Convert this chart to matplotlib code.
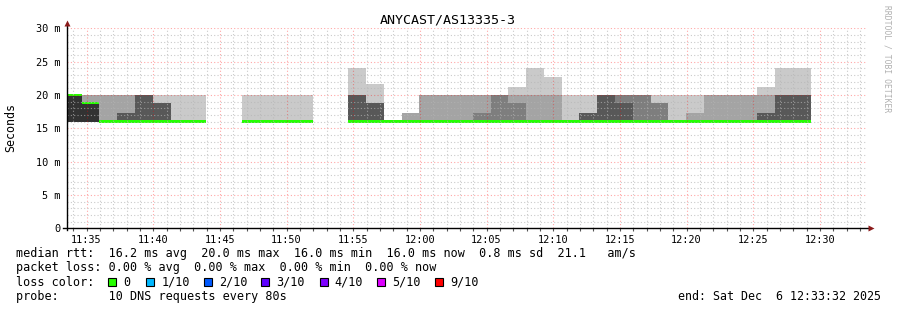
import matplotlib
matplotlib.use("Agg")
import matplotlib.pyplot as plt
from matplotlib.patches import Rectangle

nan = float("nan")

# view window and rrd step (clock times)
view_start = "11:33:32"
view_end = "12:33:32"
first_bin_end = "11:34:38"
step_s = 80

# sorted DNS round trip times per 80 s bin (ms), rank 1 = fastest; nan = no data
rtt_1 = [16, 16, 16, 16, 16, 16, 16, 16, nan, nan, 16, 16, 16, 16, nan, nan, 16, 16, 16, 16, 16,
         16, 16, 16, 16, 16, 16, 16, 16, 16, 16, 16, 16, 16, 16, 16, 16, 16, 16, 16, 16, 16]
rtt_2 = [16, 16, 16, 16, 16, 16, 16, 16, nan, nan, 16, 16, 16, 16, nan, nan, 16, 16, 16, 16, 16,
         16, 16, 16, 16, 16, 16, 16, 16, 16, 16, 16, 16, 16, 16, 16, 16, 16, 16, 16, 16, 16]
rtt_3 = [16, 16, 16, 16, 16, 16, 16, 16, nan, nan, 16, 16, 16, 16, nan, nan, 16, 16, 16, 16, 16,
         16, 16, 16, 16, 16, 16, 16, 16, 16, 16, 16, 16, 16, 16, 16, 16, 16, 16, 16, 16, 16]
rtt_4 = [16, 16, 16, 16, 16, 16, 16, 16, nan, nan, 16, 16, 16, 16, nan, nan, 16, 16, 16, 16, 16,
         16, 16, 16, 16, 16, 16, 16, 16, 16, 16, 16, 16, 16, 16, 16, 16, 16, 16, 16, 16, 16]
rtt_5 = [16, 16, 16, 16, 16, 16, 16, 16, nan, nan, 16, 16, 16, 16, nan, nan, 16, 16, 16, 16, 16,
         16, 16, 16, 16, 16, 16, 16, 16, 16, 16, 16, 16, 16, 16, 16, 16, 16, 16, 16, 16, 16]
rtt_6 = [20, 18.8, 16, 16, 16, 16, 16, 16, nan, nan, 16, 16, 16, 16, nan, nan, 16, 16, 16, 16, 16,
         16, 16, 16, 16, 16, 16, 16, 16, 16, 16, 16, 16, 16, 16, 16, 16, 16, 16, 16, 16, 16]
rtt_7 = [20, 18.8, 16, 17.35, 20, 18.8, 16, 16, nan, nan, 16, 16, 16, 16, nan, nan, 20, 18.8, 16, 16, 16,
         16, 16, 16, 16, 16, 16, 16, 16, 17.35, 20, 18.8, 16, 16, 16, 16, 16, 16, 16, 17.35, 20, 20]
rtt_8 = [20, 18.8, 16, 17.35, 20, 18.8, 16, 16, nan, nan, 16, 16, 16, 16, nan, nan, 20, 18.8, 16, 16, 16,
         16, 16, 17.35, 20, 18.8, 16, 16, 16, 17.35, 20, 20, 20, 18.8, 16, 16, 16, 16, 16, 17.35, 20, 20]
rtt_9 = [20, 20, 20, 20, 20, 18.8, 16, 16, nan, nan, 16, 16, 16, 16, nan, nan, 20, 18.8, 16, 17.35, 20,
         20, 20, 20, 20, 20, 20, 20, 16, 17.35, 20, 20, 20, 18.8, 16, 17.35, 20, 20, 20, 20, 20, 20]
rtt_10 = [20, 20, 20, 20, 20, 20, 20, 20, nan, nan, 20, 20, 20, 20, nan, nan, 24, 21.65, 16, 17.35, 20,
          20, 20, 20, 20, 21.15, 24, 22.7, 20, 20, 20, 20, 20, 20, 20, 20, 20, 20, 20, 21.15, 24, 24]
median_rtt = rtt_6

x_ticks = ["11:35", "11:40", "11:45", "11:50", "11:55", "12:00", "12:05",
           "12:10", "12:15", "12:20", "12:25", "12:30"]
y_ticks = [0, 5, 10, 15, 20, 25, 30]

loss_labels = ["0", "1/10", "2/10", "3/10", "4/10", "5/10", "9/10"]
loss_colors = ["#26ff00", "#00b8ff", "#0059ff", "#5e00ff", "#7e00ff", "#dd00ff", "#ff0000"]

smoke_grays = ["#cacaca", "#a4a4a4", "#7e7e7e", "#585858", "#323232"]
MONO = "DejaVu Sans Mono"
W, H = 897, 310


def secs(t):
    h, m, s = (int(v) for v in t.split(":"))
    return h * 3600 + m * 60 + s


def fy(py):
    return 1 - py / H


t0 = secs(view_start)
t1 = secs(view_end)
n_bins = len(rtt_1)
bin_start = [secs(first_bin_end) - step_s + i * step_s for i in range(n_bins)]

fig = plt.figure(figsize=(W / 100, H / 100), dpi=100)
fig.patch.set_facecolor("white")
ax = fig.add_axes([67 / W, (H - 228.3) / H, 800 / W, 200 / H])
ax.set_facecolor("white")

# smoke: band i spans rank i .. rank 11-i, darker towards the middle
ranks = [rtt_1, rtt_2, rtt_3, rtt_4, rtt_5, rtt_6, rtt_7, rtt_8, rtt_9, rtt_10]
for i in range(5):
    lo_r, hi_r = ranks[i], ranks[9 - i]
    xs, lo, hh = [], [], []
    for x, a, b in zip(bin_start, lo_r, hi_r):
        if a == a and b == b and b > a:
            xs.append(x)
            lo.append(a)
            hh.append(b - a)
    ax.bar(xs, hh, bottom=lo, width=step_s, align="edge", color=smoke_grays[i],
           linewidth=0, zorder=1)

# median line, loss colour for 0 lost
swidth = 0.2
xs = [x for x, m in zip(bin_start, median_rtt) if m == m]
ms = [m - swidth for m in median_rtt if m == m]
ax.bar(xs, [2 * swidth] * len(xs), bottom=ms, width=step_s, align="edge",
       color=loss_colors[0], linewidth=0, zorder=2)

ax.set_xlim(t0, t1)
ax.set_ylim(0, 30)
ax.set_xticks([secs(t + ":00") for t in x_ticks])
ax.set_xticklabels(x_ticks)
ax.set_xticks(range(secs("11:34:00"), t1, 60), minor=True)
ax.set_yticks(y_ticks)
ax.set_yticklabels(["0" if v == 0 else f"{v} m" for v in y_ticks])
ax.set_yticks(range(0, 31), minor=True)

ax.set_axisbelow(False)
ax.grid(which="minor", color="#b4b4b4", alpha=0.7, linestyle=(0, (1, 2)), linewidth=0.8)
ax.grid(which="major", color="#ff0000", alpha=0.35, linestyle=(0, (1, 2)), linewidth=0.8)

for s in ax.spines.values():
    s.set_visible(False)
ax.tick_params(axis="x", which="both", direction="out", length=2, width=0.8,
               color="#555555", pad=2.5, labelsize=7.4)
ax.tick_params(axis="y", which="both", length=0, pad=5, labelsize=7.4)
for lab in ax.get_xticklabels() + ax.get_yticklabels():
    lab.set_fontfamily(MONO)
    lab.set_color("#000000")

# axes with arrows
ax.plot([-4.3 / 800, 1.002], [0, 0], transform=ax.transAxes, color="black",
        lw=1, clip_on=False, zorder=5)
ax.plot([0, 0], [-1.7 / 200, 1.015], transform=ax.transAxes, color="black",
        lw=1, clip_on=False, zorder=5)
ax.plot([1.0045], [0], transform=ax.transAxes, marker=">", ms=4, color="#8b1a1a",
        clip_on=False, zorder=6, mec="none")
ax.plot([0], [1.027], transform=ax.transAxes, marker="^", ms=4, color="#8b1a1a",
        clip_on=False, zorder=6, mec="none")

fig.text(448 / W, fy(20), "ANYCAST/AS13335-3", ha="center", va="center",
         fontsize=9.6, family=MONO)
fig.text(11 / W, fy(127), "Seconds", rotation=90, ha="center", va="center",
         fontsize=8.4, family=MONO)
fig.text(886.5 / W, fy(5), "RRDTOOL / TOBI OETIKER", rotation=270, ha="center",
         va="top", fontsize=5.8, family=MONO, color="#b0b0b0")

leg = dict(ha="left", va="center", fontsize=8.5, family=MONO)
fig.text(16 / W, fy(254),
         "median rtt:  16.2 ms avg  20.0 ms max  16.0 ms min  16.0 ms now  0.8 ms sd  21.1   am/s",
         **leg)
fig.text(16 / W, fy(268),
         "packet loss: 0.00 % avg  0.00 % max  0.00 % min  0.00 % now", **leg)
fig.text(16 / W, fy(282.3), "loss color:", **leg)
fig.text(16 / W, fy(296.3), "probe:       10 DNS requests every 80s", **leg)
fig.text(881 / W, fy(296.3), "end: Sat Dec  6 12:33:32 2025", ha="right", va="center",
         fontsize=8.4, family=MONO)

box_x = [107.5, 146, 203.5, 261, 319.5, 377, 435]
for bx, lab, col in zip(box_x, loss_labels, loss_colors):
    fig.patches.append(Rectangle((bx / W, fy(286)), 8 / W, 8 / H, transform=fig.transFigure,
                                 facecolor=col, edgecolor="black", linewidth=0.8))
    fig.text((bx + 15.3) / W, fy(282.3), lab, **leg)

fig.savefig("out.png", dpi=100)
